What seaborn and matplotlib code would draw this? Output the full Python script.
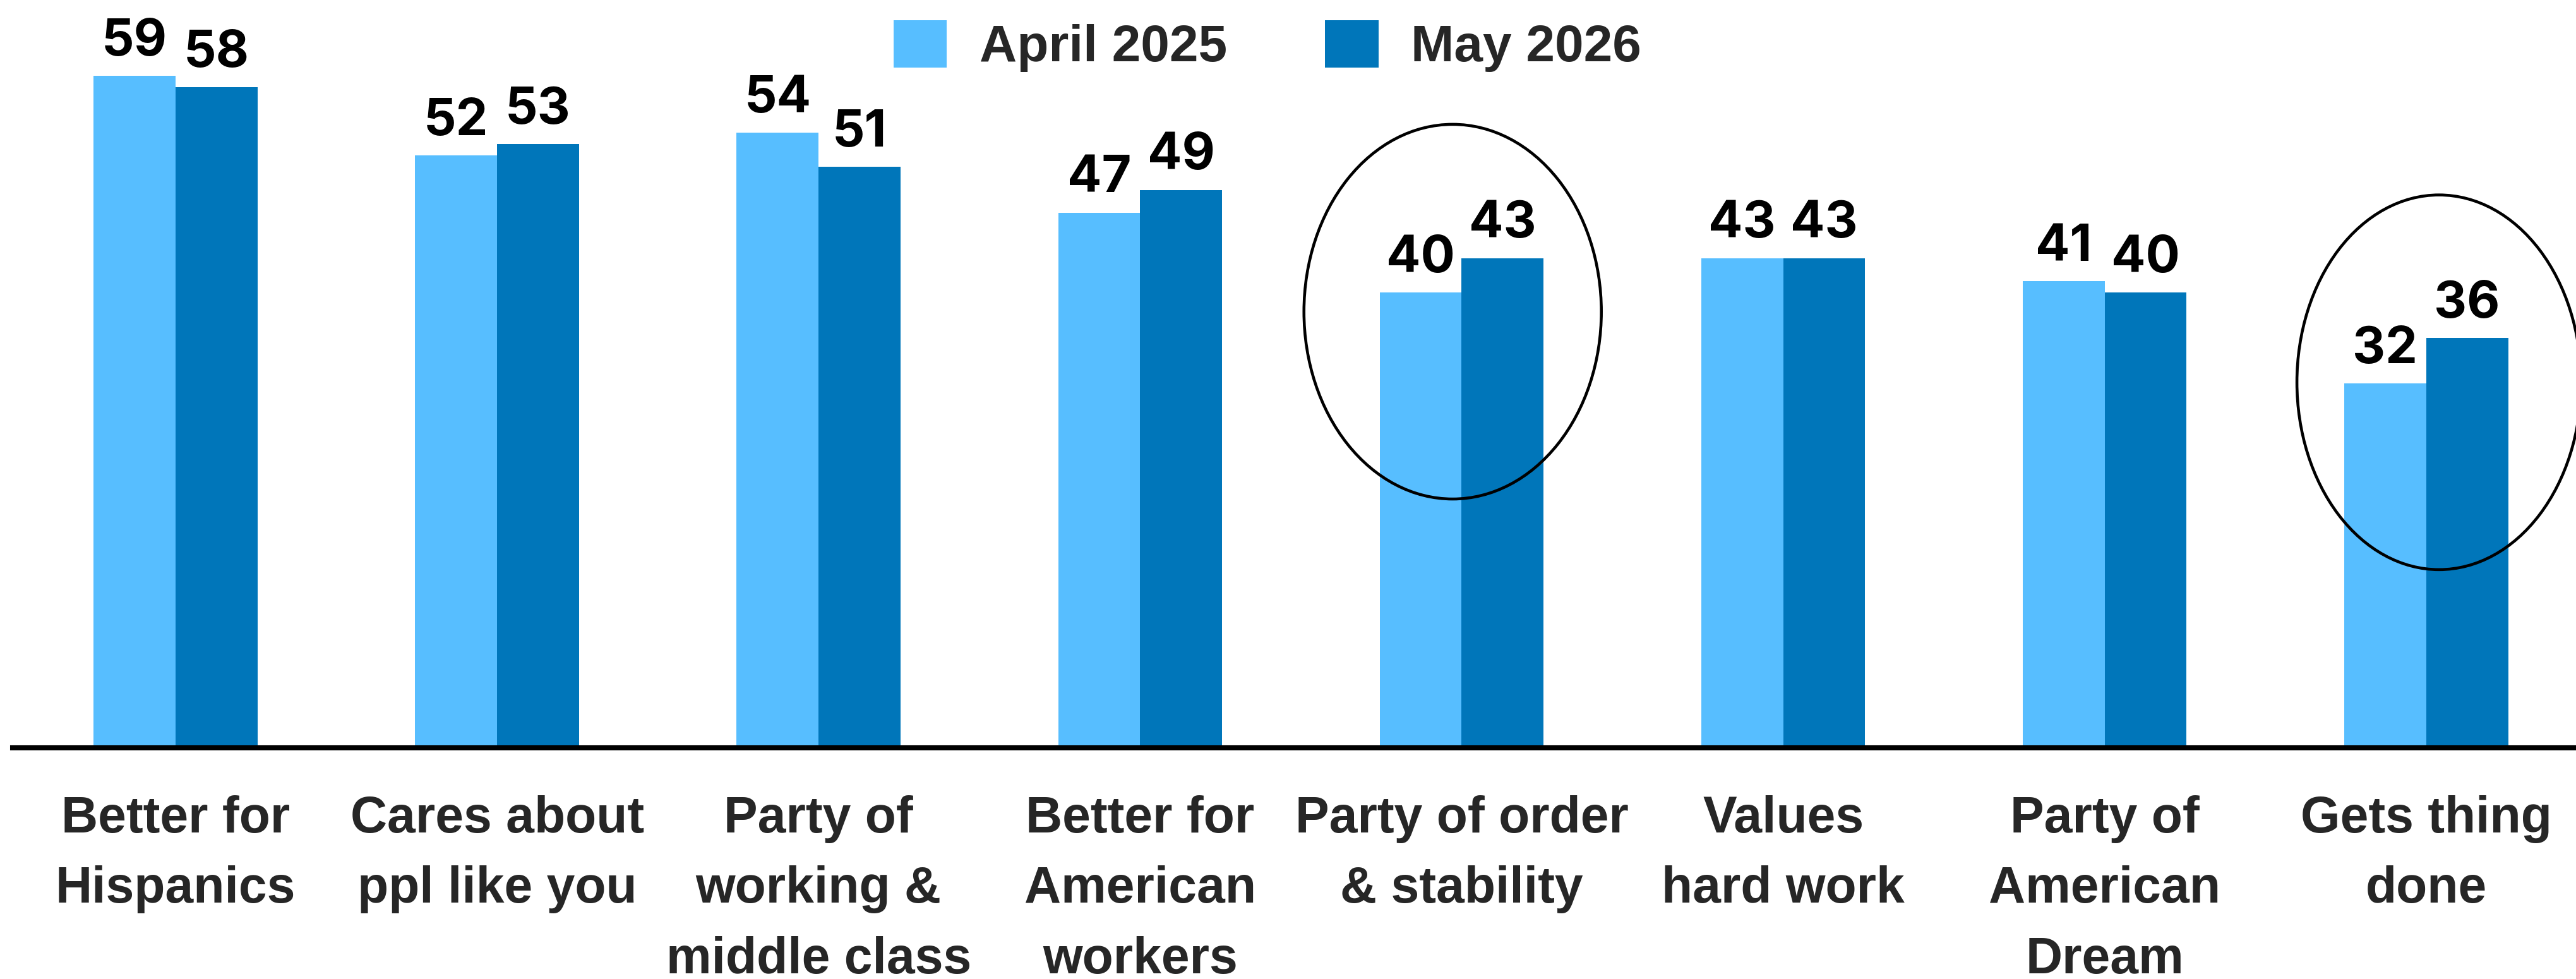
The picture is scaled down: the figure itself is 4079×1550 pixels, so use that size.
import matplotlib
matplotlib.use("Agg")
import matplotlib.pyplot as plt
from matplotlib.patches import Ellipse
import numpy as np
import pandas as pd
import seaborn as sns

# ---- data ----
categories = [
    "Better for\nHispanics",
    "Cares about\nppl like you",
    "Party of\nworking &\nmiddle class",
    "Better for\nAmerican\nworkers",
    "Party of order\n& stability",
    "Values\nhard work",
    "Party of\nAmerican\nDream",
    "Gets thing\ndone",
]
april_2025 = [59, 52, 54, 47, 40, 43, 41, 32]
may_2026 = [58, 53, 51, 49, 43, 43, 40, 36]
series_names = ["April 2025", "May 2026"]
highlighted = ["Party of order\n& stability", "Gets thing\ndone"]

# ---- style ----
LIGHT = "#57BEFF"
DARK = "#0076BA"
sns.set_style("white")
plt.rcParams["font.family"] = ["Liberation Sans", "DejaVu Sans"]

df = pd.DataFrame({
    "category": categories * 2,
    "value": april_2025 + may_2026,
    "series": [series_names[0]] * len(categories) + [series_names[1]] * len(categories),
})

W, H = 4080, 1550
fig = plt.figure(figsize=(W / 100, H / 100), dpi=100)
ax = fig.add_axes([20 / W, 366 / H, 1 - 20 / W, 1184 / H])

sns.barplot(data=df, x="category", y="value", hue="series", order=categories,
            hue_order=series_names, palette=[LIGHT, DARK], width=0.51,
            saturation=1, errorbar=None, ax=ax, linewidth=0)

ax.set_xlim(-0.507, 7.468)
ax.set_ylim(0, 65.67)

for cont in ax.containers:
    ax.bar_label(cont, fmt="%d", padding=11, fontsize=58, fontweight="bold",
                 family=["Inter", "DejaVu Sans"], color="black")

for s in ["top", "left", "right"]:
    ax.spines[s].set_visible(False)
ax.spines["bottom"].set_linewidth(5.8)
ax.spines["bottom"].set_color("black")
ax.set_yticks([])
ax.set_xlabel("")
ax.set_ylabel("")
ax.set_xticks(range(len(categories)))
ax.set_xticklabels(categories, fontsize=58, fontweight="bold",
                   family=["Liberation Sans", "DejaVu Sans"], linespacing=1.6)
ax.tick_params(axis="x", length=0, pad=54)

# highlight ellipses around selected groups (annotation)
ell_style = {highlighted[0]: (-0.028, -3.2, 0.925, 32.9),
             highlighted[1]: (0.04, -1.9, 0.884, 32.9)}
for cat in highlighted:
    i = categories.index(cat)
    dx, dy, ew, eh = ell_style[cat]
    cy = (april_2025[i] + may_2026[i]) / 2 + dy
    ax.add_patch(Ellipse((i + dx, cy), ew, eh, fill=False, edgecolor="black",
                         linewidth=3.3, clip_on=False, zorder=5))

handles, labels = ax.get_legend_handles_labels()
if ax.get_legend() is not None:
    ax.get_legend().remove()
fig.legend(handles, labels, loc="center", bbox_to_anchor=(2007 / W, 1 - 73 / H),
           ncol=2, frameon=False,
           prop={"family": "Liberation Sans", "weight": "bold", "size": 59},
           handlelength=1.03, handleheight=1.03, handletextpad=0.63,
           columnspacing=1.9)

fig.savefig("out.png", dpi=100)
